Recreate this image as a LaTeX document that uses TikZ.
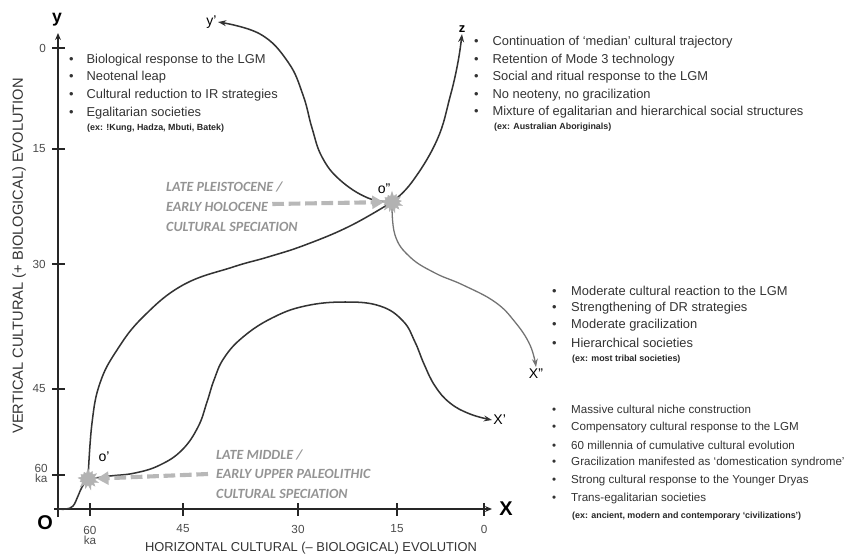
\documentclass[tikz,border=0pt]{standalone}
\usepackage{fontspec}
\setmainfont{Liberation Sans}
\newfontfamily\specfont{Carlito}
\usetikzlibrary{arrows.meta,shapes.symbols}

\tikzset{
  bullettext/.style={anchor=west, inner sep=0pt, text=black!80, font=\fontsize{11}{13}\selectfont},
  extext/.style={anchor=west, inner sep=0pt, text=black!85, font=\fontsize{7.6}{8}\selectfont\bfseries},
  spectext/.style={anchor=west, inner sep=0pt, text=black!42, font=\specfont\bfseries\itshape\fontsize{12}{13}\selectfont},
  axis/.style={line width=1.6pt, black!85},
  ticklab/.style={inner sep=0pt, text=black!70, align=center, font=\fontsize{10}{8.5}\selectfont},
  curve/.style={line width=1.3pt, black!80, -{Stealth[length=7pt,width=5pt]}},
  specarrow/.style={line width=3.5pt, black!28, dash pattern=on 10pt off 4pt, -{Triangle[length=10pt,width=11pt]}},
  speciation/.style={starburst, fill=black!30, draw=black!30, minimum width=0.72cm, minimum height=0.66cm, inner sep=0pt, starburst points=13, starburst point height=0.16cm, random starburst=7},
  ptlabel/.style={inner sep=1pt, font=\fontsize{12}{14}\selectfont}
}

\begin{document}
\begin{tikzpicture}[x=0.03cm, y=-0.03cm]
\useasboundingbox (0,0) rectangle (853,555);

% axes
\coordinate (orig) at (58,509);
\coordinate (ytop) at (58,33);
\coordinate (xend) at (492,509);
\draw[axis, -{Stealth[length=6pt,width=5pt]}] (58,517) -- (ytop);
\draw[axis, -{Stealth[length=6pt,width=5pt]}] (54,509) -- (xend);
\node[font=\fontsize{15}{15}\selectfont\bfseries] (ylab) at (57,20) {y};
\node[font=\fontsize{17}{17}\selectfont\bfseries] (xlab) at (506,509) {X};
\node[font=\fontsize{17}{17}\selectfont\bfseries] (olab) at (45,523) {O};

\foreach \yy/\t in {48/0, 149/15, 264/30, 389/45} {
    \draw[axis] (52,\yy) -- (65,\yy);
    \node[ticklab, anchor=east] (ytick-\t) at (46,\yy) {\t};
}
\draw[axis] (52,475) -- (65,475);
\node[ticklab, anchor=east] (ytick-60) at (48,473) {60\\ka};
\foreach \xx/\t in {183/45, 298/30, 397/15, 484/0} {
    \draw[axis] (\xx,503) -- (\xx,516);
    \node[ticklab] (xtick-\t) at (\xx,529) {\t};
}
\draw[axis] (90,503) -- (90,516);
\node[ticklab] (xtick-60) at (90,535) {60\\ka};

\node[rotate=90, text=black!80, font=\fontsize{12.5}{13}\selectfont] (vtitle) at (19,256) {VERTICAL CULTURAL (+ BIOLOGICAL) EVOLUTION};
\node[text=black!80, font=\fontsize{11}{13}\selectfont] (htitle) at (311,548) {HORIZONTAL CULTURAL (\textendash{} BIOLOGICAL) EVOLUTION};

% trajectories
\coordinate (c1) at (88,479);
\coordinate (c2) at (392,202);
\coordinate (yp) at (218,22);
\coordinate (z) at (462,34);
\coordinate (xpp) at (536,367);
\coordinate (xp) at (492,420);

\draw[curve, -] plot[smooth, tension=0.7] coordinates {(orig) (66,509) (73,506) (78,496) (82,487) (c1)};
\draw[curve, -] plot[smooth, tension=0.7] coordinates {(c1) (92,423) (100,383) (117,350) (143,317) (183,285) (233,267) (268,257) (305,245) (350,226) (c2)};
\draw[curve] plot[smooth, tension=0.7] coordinates {(c2) (412,182) (437,140) (450,97) (458,62) (z)};
\draw[curve] plot[smooth, tension=0.7] coordinates {(c2) (368,198) (340,180) (322,157) (312,128) (303,95) (288,62) (260,34) (yp)};
\draw[curve, black!55, line width=1.1pt] plot[smooth, tension=0.7] coordinates {(c2) (395,235) (410,257) (435,273) (463,285) (495,302) (515,322) (530,345) (xpp)};
\draw[curve] plot[smooth, tension=0.7] coordinates {(c1) (110,476) (135,473) (160,465) (182,450) (198,427) (207,402) (214,380) (224,358) (243,337) (272,318) (305,306) (345,302) (380,306) (403,321) (415,342) (424,364) (435,386) (450,403) (470,414) (xp)};

\node[ptlabel, anchor=east] (yplab) at (yp) {y'};
\node[ptlabel, anchor=south, font=\fontsize{11}{12}\selectfont\bfseries] (zlab) at (z) {z};
\node[ptlabel, anchor=north] (xpplab) at (xpp) {X''};
\node[ptlabel, anchor=west] (xplab) at (xp) {X'};

% speciation events
\node[speciation] (spec1) at (c1) {};
\node[speciation] (spec2) at (c2) {};
\node[ptlabel] (o1lab) at (104,457) {o'};
\node[ptlabel] (o2lab) at (384,189) {o''};

\node[spectext] (late1) at (166,187) {LATE PLEISTOCENE /};
\node[spectext] (late2) at (166,207) {EARLY HOLOCENE};
\node[spectext] (late3) at (166,227) {CULTURAL SPECIATION};
\draw[specarrow] (late2.east) ++(4,-3) -- (spec2);

\node[spectext] (mid1) at (216,455) {LATE MIDDLE /};
\node[spectext] (mid2) at (216,474) {EARLY UPPER PALEOLITHIC};
\node[spectext] (mid3) at (216,494) {CULTURAL SPECIATION};
\draw[specarrow] (mid2.west) ++(-8,0) -- (spec1);

% bullet lists
\foreach \t [count=\i] in {Biological response to the LGM, Neotenal leap, Cultural reduction to IR strategies, Egalitarian societies}
    \node[bullettext] (bio-\i) at (69,{42+17.7*\i}) {\makebox[0.52cm][l]{\textbullet}\t};
\node[extext] (bio-ex) at (87,128) {(ex: !Kung, Hadza, Mbuti, Batek)};

\foreach \t [count=\i] in {Continuation of ‘median’ cultural trajectory, Retention of Mode 3 technology, Social and ritual response to the LGM, {No neoteny, no gracilization}, Mixture of egalitarian and hierarchical social structures}
    \node[bullettext] (med-\i) at (474,{25+17.5*\i}) {\makebox[0.55cm][l]{\textbullet}\t};
\node[extext] (med-ex) at (494,127) {(ex: Australian Aboriginals)};

\foreach \t [count=\i] in {Moderate cultural reaction to the LGM, Strengthening of DR strategies, Moderate gracilization, Hierarchical societies}
    \node[bullettext] (mod-\i) at (552,{273+17.5*\i}) {\makebox[0.57cm][l]{\textbullet}\t};
\node[extext] (mod-ex) at (572,359) {(ex: most tribal societies)};

\foreach \t [count=\i] in {Massive cultural niche construction, Compensatory cultural response to the LGM, 60 millennia of cumulative cultural evolution, Gracilization manifested as ‘domestication syndrome’, Strong cultural response to the Younger Dryas, Trans-egalitarian societies}
    \node[bullettext, font=\fontsize{9.9}{12}\selectfont] (mas-\i) at (552,{392+17.7*\i}) {\makebox[0.57cm][l]{\textbullet}\t};
\node[extext] (mas-ex) at (572,516) {(ex: ancient, modern and contemporary ‘civilizations’)};
\end{tikzpicture}
\end{document}
